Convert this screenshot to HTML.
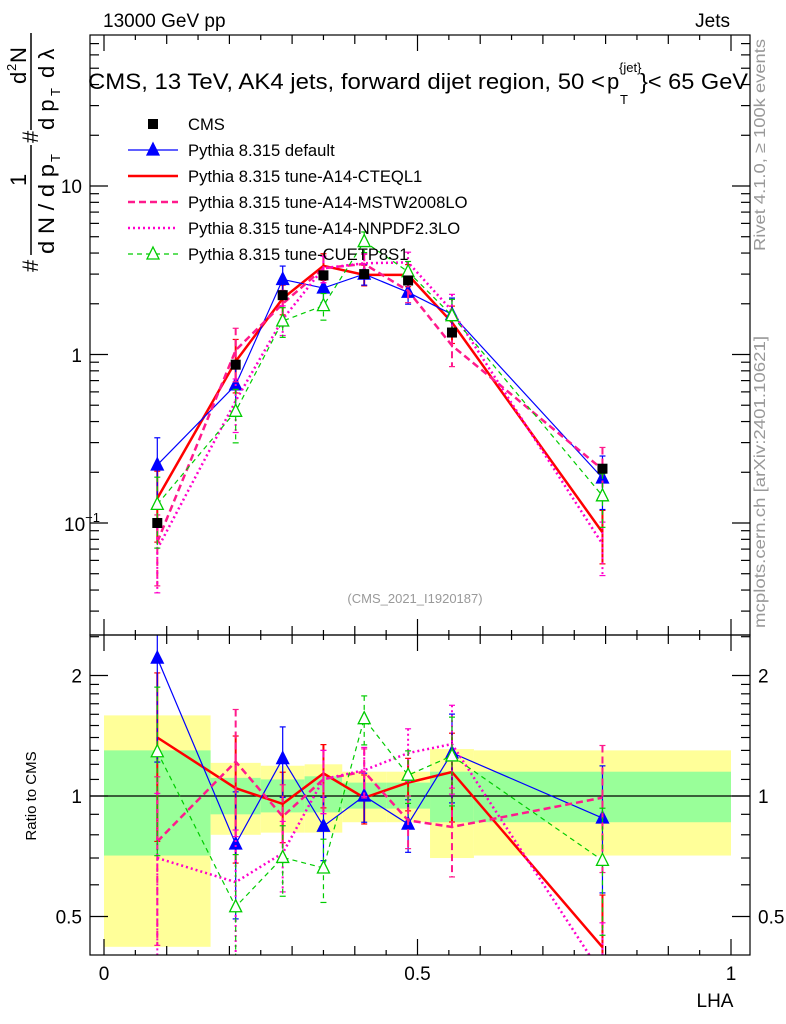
<!DOCTYPE html>
<html><head><meta charset="utf-8">
<style>
html,body{margin:0;padding:0;background:#fff;}
svg{display:block;font-family:"Liberation Sans",sans-serif;}
</style></head>
<body>
<svg id="c" width="786" height="1024" viewBox="0 0 786 1024" xmlns="http://www.w3.org/2000/svg">
<defs>
<clipPath id="cm"><rect x="90" y="35" width="660" height="600"/></clipPath>
<clipPath id="cr"><rect x="90" y="635" width="660" height="320"/></clipPath>
</defs>
<g id="bands" clip-path="url(#cr)"></g>
<g id="ticks"></g>
<line x1="90" y1="796" x2="750" y2="796" stroke="#000" stroke-width="1.2"/>
<g id="main" clip-path="url(#cm)"></g>
<g id="ratio" clip-path="url(#cr)"></g>
<rect x="90" y="35" width="660" height="600" fill="none" stroke="#000" stroke-width="1.2"/>
<rect x="90" y="635" width="660" height="320" fill="none" stroke="#000" stroke-width="1.2"/>
<text x="103" y="27" font-size="19">13000 GeV pp</text>
<text x="730" y="27" font-size="19" text-anchor="end">Jets</text>
<g font-size="22">
<text x="88" y="89" textLength="517" lengthAdjust="spacingAndGlyphs">CMS, 13 TeV, AK4 jets, forward dijet region, 50 &lt;</text>
<text x="607" y="89">p</text>
<text x="619" y="72" font-size="13">{jet}</text>
<text x="620" y="104" font-size="13">T</text>
<text x="640" y="89" textLength="108" lengthAdjust="spacingAndGlyphs">}&lt; 65 GeV</text>
</g>
<text x="415" y="603" font-size="13" fill="#999" text-anchor="middle">(CMS_2021_I1920187)</text>
<text transform="translate(765,145) rotate(-90)" font-size="16" fill="#999" text-anchor="middle" textLength="212" lengthAdjust="spacingAndGlyphs">Rivet 4.1.0, ≥ 100k events</text>
<text transform="translate(765,482) rotate(-90)" font-size="16" fill="#999" text-anchor="middle" textLength="292" lengthAdjust="spacingAndGlyphs">mcplots.cern.ch [arXiv:2401.10621]</text>
<text transform="translate(36,796) rotate(-90)" font-size="15" text-anchor="middle">Ratio to CMS</text>
<g transform="rotate(-90)" font-size="22">
<text x="-272" y="38">#</text>
<text x="-186" y="26">1</text>
<line x1="-255" y1="31" x2="-145" y2="31" stroke="#000" stroke-width="1.5"/>
<text x="-254" y="54" textLength="90" lengthAdjust="spacingAndGlyphs">d N / d p</text>
<text x="-162" y="60" font-size="13">T</text>
<text x="-143" y="38">#</text>
<text x="-84" y="26">d</text>
<text x="-71" y="16" font-size="13">2</text>
<text x="-63" y="26">N</text>
<line x1="-130" y1="31" x2="-33" y2="31" stroke="#000" stroke-width="1.5"/>
<text x="-130" y="54">d p</text>
<text x="-96" y="60" font-size="13">T</text>
<text x="-78" y="54">d λ</text>
</g>
<text x="715" y="1007" font-size="19" text-anchor="middle">LHA</text>
<g id="legend"></g>
<script>
var edges=[0,0.17,0.25,0.32,0.38,0.45,0.52,0.59,1.0];
var xs=[0.085,0.21,0.285,0.35,0.415,0.485,0.555,0.795];
var cms=[0.1,0.87,2.25,2.95,3.0,2.75,1.35,0.21];
var yelUp=[1.59,1.21,1.19,1.20,1.15,1.15,1.31,1.30];
var yelDn=[0.42,0.80,0.81,0.81,0.86,0.86,0.70,0.71];
var grnUp=[1.30,1.11,1.10,1.12,1.08,1.08,1.15,1.15];
var grnDn=[0.71,0.90,0.91,0.91,0.93,0.93,0.86,0.86];
var sDefault=[0.221,0.66,2.79,2.48,3.0,2.34,1.73,0.185];
var sCTEQ=[0.14,0.91,2.15,3.36,2.97,2.97,1.55,0.088];
var sMSTW=[0.077,1.06,2.0,3.25,3.45,2.39,1.13,0.208];
var sNNPDF=[0.07,0.53,1.62,3.25,3.48,3.52,1.82,0.075];
var sCUET=[0.129,0.46,1.58,1.95,4.68,3.1,1.70,0.145];
var relErr=[0.45,0.35,0.2,0.18,0.14,0.15,0.25,0.35];
var yTickMain=["10","1"];
var NS="http://www.w3.org/2000/svg";
function X(v){return 104+627*v;}
function YM(v){return 186-168.5*(Math.log10(v)-1);}
function YR(r){return 796-120.5*Math.log2(r);}
function mk(tag,at,par){var e=document.createElementNS(NS,tag);for(var k in at)e.setAttribute(k,at[k]);par.appendChild(e);return e;}
var svg=document.getElementById('c');
var bands=document.getElementById('bands');
for(var i=0;i<8;i++){
 var b=mk('rect',{x:X(edges[i]),y:YR(yelUp[i]),width:X(edges[i+1])-X(edges[i]),height:YR(yelDn[i])-YR(yelUp[i]),fill:'#ffff99'},bands);
 
 
 var g=mk('rect',{x:X(edges[i]),y:YR(grnUp[i]),width:X(edges[i+1])-X(edges[i]),height:YR(grnDn[i])-YR(grnUp[i]),fill:'#99ff99'},bands);
 
 
}
var T=document.getElementById('ticks');
function tl(x1,y1,x2,y2){mk('line',{x1:x1,y1:y1,x2:x2,y2:y2,stroke:'#000','stroke-width':1.2},T);}
for(var k=0;k<=20;k++){var v=k*0.05,x=X(v),L=(k%10==0)?16:(k%2==0?9:5);
 tl(x,635,x,635-L);tl(x,35,x,35+L);tl(x,955,x,955-L);tl(x,635,x,635+L);}
for(var d=-2;d<=1;d++){for(var m=1;m<10;m++){var v=m*Math.pow(10,d),y=YM(v);if(y<35||y>635)continue;var L=m==1?18:9;tl(90,y,90+L,y);tl(750,y,750-L,y);}}
var rt=[0.4,0.5,0.6,0.7,0.8,0.9,1,1.1,1.2,1.3,1.4,1.5,1.6,1.7,1.8,1.9,2,2.5];
rt.forEach(function(r){var y=YR(r);if(y<635||y>955)return;var L=(r==0.5||r==1||r==2)?18:9;tl(90,y,90+L,y);tl(750,y,750-L,y);});
function tx(s,x,y,a,n){var t=mk('text',{x:x,y:y,'font-size':19,'text-anchor':a},svg);t.textContent=s;return t;}
tx(yTickMain[0],82,193,'end','y-tick-10');tx(yTickMain[1],82,362,'end','y-tick-1');
var tm=tx('10',64,531,'start','y-tick-0.1');
var sup=mk('tspan',{'font-size':13,dy:-9},tm);sup.textContent='−1';
[[2,'2'],[1,'1'],[0.5,'0.5']].forEach(function(p){tx(p[1],82,YR(p[0])+7,'end','ratio-tick-left');tx(p[1],758,YR(p[0])+7,'start','ratio-tick-right');});
[[0,'0'],[0.5,'0.5'],[1,'1']].forEach(function(p){tx(p[1],X(p[0]),980,'middle','x-tick');});
var series=[
 {d:sCTEQ,c:'#ff0000',w:2.5,da:'',m:'none',n:'cteql1'},
 {d:sDefault,c:'#0000ff',w:1.2,da:'',m:'tri',n:'default'},
 {d:sMSTW,c:'#ff1a8c',w:2.5,da:'7,4',m:'none',n:'mstw2008lo'},
 {d:sNNPDF,c:'#ff00cc',w:2.5,da:'2,3',m:'none',n:'nnpdf23lo'},
 {d:sCUET,c:'#00cc00',w:1.2,da:'5,4',m:'otri',n:'cuetp8s1'}];
function tri(par,x,y,c,fill){return mk('path',{d:'M'+x+','+(y-7)+'L'+(x+6)+','+(y+5)+'L'+(x-6)+','+(y+5)+'Z',fill:fill?c:'#fff',stroke:c,'stroke-width':1.3},par);}
function drawSeries(par,vals,yf,s,name){
 var g=mk('g',{},par);
 var pts=vals.map(function(v,i){return X(xs[i])+','+yf(v);}).join(' ');
 mk('polyline',{points:pts,fill:'none',stroke:s.c,'stroke-width':s.w,'stroke-dasharray':s.da},g);
 vals.forEach(function(v,i){var x=X(xs[i]),y1=yf(v*(1+relErr[i])),y2=yf(Math.max(v*(1-relErr[i]),1e-3));
  mk('line',{x1:x,y1:y1,x2:x,y2:y2,stroke:s.c,'stroke-width':s.w>2?2:1.2,'stroke-dasharray':s.da},g);
  mk('line',{x1:x-3,y1:y1,x2:x+3,y2:y1,stroke:s.c,'stroke-width':1.2},g);
  mk('line',{x1:x-3,y1:y2,x2:x+3,y2:y2,stroke:s.c,'stroke-width':1.2},g);
  if(s.m=='tri')tri(g,x,yf(v),s.c,true);if(s.m=='otri')tri(g,x,yf(v),s.c,false);});
}
var M=document.getElementById('main'),R=document.getElementById('ratio');
series.forEach(function(s){
 drawSeries(M,s.d,YM,s,'series-'+s.n);
 drawSeries(R,s.d.map(function(v,i){return v/cms[i];}),YR,s,'ratio-'+s.n);
});
cms.forEach(function(v,i){var r=mk('rect',{x:X(xs[i])-5,y:YM(v)-5,width:10,height:10,fill:'#000'},M);
 });
var Lg=document.getElementById('legend');
var lab=['CMS','Pythia 8.315 default','Pythia 8.315 tune-A14-CTEQL1','Pythia 8.315 tune-A14-MSTW2008LO','Pythia 8.315 tune-A14-NNPDF2.3LO','Pythia 8.315 tune-CUETP8S1'];
var ls=[null,series[1],series[0],series[2],series[3],series[4]];
lab.forEach(function(t,i){var y=124+26*i;
 var e=mk('g',{},Lg);
 if(i==0)mk('rect',{x:148,y:y-5,width:10,height:10,fill:'#000'},e);
 else{var s=ls[i];mk('line',{x1:128,y1:y,x2:178,y2:y,stroke:s.c,'stroke-width':s.w,'stroke-dasharray':s.da},e);
  if(s.m=='tri')tri(e,153,y,s.c,true);if(s.m=='otri')tri(e,153,y,s.c,false);}
 var tt=mk('text',{x:188,y:y+6,'font-size':16.6},e);tt.textContent=t;});
</script>
</svg>
</body></html>
